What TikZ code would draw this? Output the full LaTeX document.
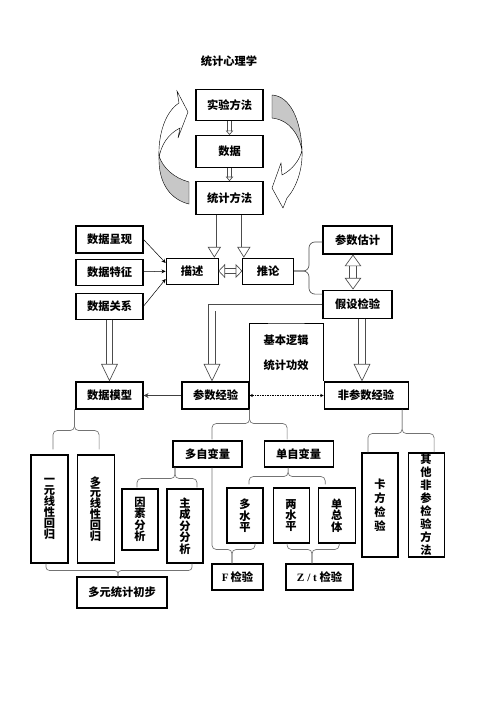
\documentclass[tikz,border=0pt]{standalone}
\usepackage{fontspec}
\newfontfamily\cnfont{Noto Sans CJK SC}
\newfontfamily\enfont{Liberation Serif}
\usetikzlibrary{arrows.meta,positioning,calc}

\tikzset{
  box/.style={draw, line width=1.3pt, fill=white, inner sep=0pt,
    font=\cnfont\bfseries\fontsize{13.5}{16}\selectfont},
  thinbox/.style={box, line width=0.8pt},
  vbox/.style={box, align=center},
  vfont/.style={font=\cnfont\bfseries\fontsize{13.5}{#1}\selectfont},
  size/.style 2 args={minimum width=#1*1.2pt, minimum height=#2*1.2pt},
  hollow/.style n args={3}{draw=black!70, line width=0.8pt, double=white,
    double distance=#1, -{Triangle[open, width=#2, length=#3, line width=0.8pt]}},
  hollowboth/.style n args={3}{draw=black!70, line width=0.8pt, double=white,
    double distance=#1, {Triangle[open, width=#2, length=#3, line width=0.8pt]}-{Triangle[open, width=#2, length=#3, line width=0.8pt]}},
  pointer/.style={draw, line width=0.6pt, -{Stealth[length=5pt, width=4.5pt]}},
  curly/.style={draw=black!55, line width=0.8pt, rounded corners=5pt},
  turn/.style={draw=black, line width=0.5pt}
}

\begin{document}
\begin{tikzpicture}[x=1.2pt, y=-1.2pt]
  \useasboundingbox (0,0) rectangle (496,702);

  \node[font=\cnfont\bfseries\fontsize{13.5}{16}\selectfont] (title) at (229,61.5) {统计心理学};

  % top column
  \node[box, size={67}{31}] (shiyan) at (229.5,105) {实验方法};
  \node[box, size={67}{32}, below=16.8pt of shiyan] (shuju) {数据};
  \node[box, size={67}{33}, below=15.6pt of shuju] (tongji) {统计方法};

  % turning arrows
  \filldraw[turn, fill=black!22] (159,156) .. controls (158,185) and (172,200) .. (189,204)
    -- (189,182) .. controls (174,178) and (163,168) .. (159,156) -- cycle;
  \filldraw[turn, fill=white] (179,103) -- (177,91) -- (188,112) -- (178,138) -- (180,128)
    .. controls (168,134) and (161,145) .. (159,158)
    .. controls (158,135) and (165,112) .. (179,103) -- cycle;
  \filldraw[turn, fill=black!22] (272,95) .. controls (290,96) and (301,120) .. (302,150)
    .. controls (299,135) and (290,120) .. (272,118) -- cycle;
  \filldraw[turn, fill=white] (302,150) .. controls (303,170) and (296,188) .. (287,198)
    -- (283,208) -- (272,188) -- (281,163) -- (282,175)
    .. controls (292,170) and (300,160) .. (302,150) -- cycle;

  % description and inference
  \node[box, size={67}{27}] (chengxian) at (109.5,239.5) {数据呈现};
  \node[box, size={67}{26}, below=6pt of chengxian] (tezheng) {数据特征};
  \node[box, size={67}{26}, below=8.4pt of tezheng] (guanxi) {数据关系};
  \node[thinbox, size={52}{26}] (miaoshu) at (192,271) {描述};
  \node[thinbox, size={51}{26}, right=28.8pt of miaoshu] (tuilun) {推论};
  \node[box, size={69}{28}] (guji) at (357.5,240) {参数估计};
  \node[box, size={69}{28}, below=42pt of guji] (jianyan) {假设检验};

  % tests
  \node[box, size={67}{27}] (moxing) at (109.5,395.5) {数据模型};
  \node[box, size={67}{27}] (canshu) at (215.5,395.5) {参数经验};
  \node[box, size={84}{27}, right=88.8pt of canshu] (feican) {非参数经验};
  \node[align=center, inner sep=0pt, font=\cnfont\bfseries\fontsize{13.5}{30}\selectfont]
    (luoji) at (286,353) {基本逻辑\\统计功效};
  \coordinate (top) at (286,323);
  \draw[line width=0.8pt] (canshu.south east) |- (top) -| (feican.north west);

  \node[box, size={69}{26}] (duozi) at (207.5,454) {多自变量};
  \node[box, size={69}{26}, right=25.2pt of duozi] (danzi) {单自变量};

  \node[vbox, size={37}{108}, vfont=13] (yiyuan) at (49.5,509) {一\\元\\线\\性\\回\\归};
  \node[vbox, size={37}{108}, vfont=13, right=9.6pt of yiyuan] (duoyuan) {多\\元\\线\\性\\回\\归};
  \node[vbox, size={36}{61}, vfont=13.5] (yinsu) at (140,519.5) {因\\素\\分\\析};
  \node[vbox, size={36}{74}, vfont=13.7] (zhucheng) at (185,526) {主\\成\\分\\分\\析};
  \node[vbox, size={36}{55}, vfont=11] (duoshui) at (245,515.5) {多\\水\\平};
  \node[vbox, size={36}{55}, vfont=11.4, right=10.8pt of duoshui] (liangshui) {两\\水\\平};
  \node[vbox, size={37}{55}, vfont=13.6, right=9.6pt of liangshui] (danzong) {单\\总\\体};
  \node[vbox, size={36}{104}, vfont=17] (kafang) at (380,505) {卡\\方\\检\\验};
  \node[vbox, size={36}{104}, vfont=15.6, right=10.8pt of kafang] (qita) {其\\他\\非\\参\\检\\验\\方\\法};

  \node[box, size={51}{26}] (Fjy) at (237.5,577) {{\enfont\bfseries F}\,检验};
  \node[box, size={67}{26}] (Ztjy) at (319.5,577) {{\enfont\bfseries Z / t} 检验};
  \node[box, size={90}{31}] (duoyuantongji) at (122,592.5) {多元统计初步};

  % hollow arrows
  \draw[hollow={4pt}{9pt}{5.4pt}] (shiyan) -- (shuju);
  \draw[hollow={4pt}{9pt}{5.4pt}] (shuju) -- (tongji);
  \coordinate (p1) at ($(miaoshu.north east)+(-4,0)$);
  \coordinate (p2) at ($(tuilun.north west)+(1.5,0)$);
  \draw[hollow={4.6pt}{16pt}{13pt}] (tongji.south -| p1) -- (p1);
  \draw[hollow={4.6pt}{16pt}{13pt}] (tongji.south -| p2) -- (p2);
  \draw[hollowboth={5.8pt}{16.8pt}{8pt}] (miaoshu) -- (tuilun);
  \coordinate (q1) at ($(guji.south)+(-4.5,0)$);
  \draw[hollowboth={7pt}{20pt}{14pt}] (q1) -- (q1 |- jianyan.north);
  \draw[hollow={7pt}{20pt}{21pt}] (guanxi) -- (moxing);
  \coordinate (q2) at ($(jianyan.south)+(4.5,0)$);
  \draw[hollow={7pt}{20pt}{21pt}] (q2) -- (q2 |- feican.north);
  \draw[hollow={7pt}{20pt}{21pt}] ($(jianyan.west)+(0,3.5)$) -| ($(canshu.north)+(-3.5,0)$);

  % plain arrows
  \draw[pointer] (chengxian.east) -- ($(miaoshu.west)+(0,-8)$);
  \draw[pointer] (tezheng) -- (miaoshu);
  \draw[pointer] (guanxi.east) -- ($(miaoshu.west)+(0,8)$);
  \draw[draw=black!75, line width=1.4pt, -{Stealth[length=6pt, width=6pt]}] (canshu) -- (moxing);
  \draw[densely dotted, line width=1pt, {Stealth[length=4pt, width=4pt]}-{Stealth[length=4pt, width=4pt]}]
    (canshu) -- (feican);

  % braces
  \coordinate (k9) at ($(tuilun.east)+(15,0)$);
  \draw[curly, draw=black!70, rounded corners=7pt] ($(guji.west)+(0,2)$) -| (k9) -- (tuilun.east);
  \draw[curly, draw=black!70, rounded corners=7pt] ($(jianyan.west)+(0,-10)$) -| (k9) -- (tuilun.east);

  \coordinate (k1) at ($(moxing.south west)+(-1,21)$);
  \draw[curly] ($(yiyuan.north)+(3.5,-5)$) |- (k1) -- (k1 |- moxing.south);
  \draw[curly] ($(duoyuan.north)+(3.5,-5)$) |- (k1) -- (k1 |- moxing.south);

  \coordinate (k2) at ($(canshu.south east)+(0,14)$);
  \draw[curly] ($(duozi.north)+(4.5,-1)$) |- (k2) -- (canshu.south east);
  \draw[curly] ($(danzi.north)+(-11.5,-1)$) |- (k2) -- (canshu.south east);

  \coordinate (k3) at ($(feican.south)+(36,24)$);
  \draw[curly] ($(kafang.north)+(-12,0)$) |- (k3) -- (k3 |- feican.south);
  \draw[curly] ($(qita.north)+(8,0)$) |- (k3) -- (k3 |- feican.south);

  \coordinate (k4) at ($(duozi.south)+(-32.5,11)$);
  \draw[curly] ($(yinsu.north)+(-3,-1)$) |- (k4) -- (k4 |- duozi.south);
  \draw[curly] ($(zhucheng.north)+(12,-1)$) |- (k4) -- (k4 |- duozi.south);

  \coordinate (k5) at ($(danzi.south)+(-10.5,9)$);
  \draw[curly] ($(duoshui.north)+(4,-3)$) |- (k5) -- (k5 |- danzi.south);
  \draw[curly] ($(danzong.north)+(-11.5,-3)$) |- (k5) -- (k5 |- danzi.south);

  \coordinate (k6) at ($(Fjy.north)+(-5.5,-14)$);
  \draw[curly] ($(duozi.south)+(4.5,0)$) |- (k6) -- (k6 |- Fjy.north);
  \draw[curly] ($(duoshui.south)+(10,0)$) |- (k6) -- (k6 |- Fjy.north);

  \coordinate (k7) at ($(Ztjy.north)+(-7.5,-14)$);
  \draw[curly] ($(liangshui.south)+(-4,0)$) |- (k7) -- (k7 |- Ztjy.north);
  \draw[curly] ($(danzong.south)+(2.5,0)$) |- (k7) -- (k7 |- Ztjy.north);

  \coordinate (k8) at ($(duoyuantongji.north)+(-4,-6)$);
  \draw[curly, rounded corners=4pt] ($(yiyuan.south)+(-3.5,0)$) |- (k8) -- (k8 |- duoyuantongji.north);
  \draw[curly, rounded corners=4pt] ($(zhucheng.south)+(7,0)$) |- (k8) -- (k8 |- duoyuantongji.north);
\end{tikzpicture}
\end{document}
